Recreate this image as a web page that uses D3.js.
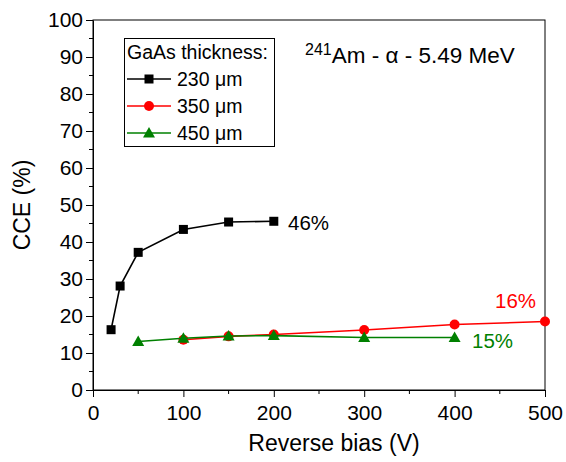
<!DOCTYPE html>
<html>
<head>
<meta charset="utf-8">
<script src="https://cdn.jsdelivr.net/npm/d3@7"></script>
<style>
body { margin: 0; background: #fff; }
text { font-family: Arial, "Liberation Sans", sans-serif; }
</style>
</head>
<body>
<div class="holder"></div>
<script>
const w = 566;
const h = 462;
const margin = {left: 93, right: 21, top: 20, bottom: 72};

// data
const bias230 = [20, 30, 50, 100, 150, 200];
const cce230 = [16.3, 28.1, 37.2, 43.4, 45.4, 45.6];
const bias350 = [100, 150, 200, 300, 400, 500];
const cce350 = [13.6, 14.5, 15.0, 16.2, 17.7, 18.5];
const bias450 = [50, 100, 150, 200, 300, 400];
const cce450 = [13.1, 14.0, 14.6, 14.7, 14.2, 14.2];
const xTicks = [0, 100, 200, 300, 400, 500];
const yTicks = [0, 10, 20, 30, 40, 50, 60, 70, 80, 90, 100];

const series = [
  {name: '230 \u03bcm', x: bias230, y: cce230, color: '#000000', shape: 'square', label: '46%'},
  {name: '350 \u03bcm', x: bias350, y: cce350, color: '#ff0000', shape: 'circle', label: '16%'},
  {name: '450 \u03bcm', x: bias450, y: cce450, color: '#008000', shape: 'triangle', label: '15%'}
];

const svg = d3.select('.holder').append('svg').attr('width', w).attr('height', h);

const xScale = d3.scaleLinear().domain([0, 500]).range([margin.left, w - margin.right]);
const yScale = d3.scaleLinear().domain([0, 100]).range([h - margin.bottom, margin.top]);

// minor ticks
const xMinor = d3.range(50, 500, 100);
const yMinor = d3.range(5, 100, 10);
svg.append('g').selectAll('line').data(xMinor).enter().append('line')
  .attr('x1', d => xScale(d)).attr('x2', d => xScale(d))
  .attr('y1', yScale(0)).attr('y2', yScale(0) + 4)
  .attr('stroke', '#000');
svg.append('g').selectAll('line').data(yMinor).enter().append('line')
  .attr('y1', d => yScale(d)).attr('y2', d => yScale(d))
  .attr('x1', xScale(0)).attr('x2', xScale(0) - 4)
  .attr('stroke', '#000');

// axes
const xAxis = d3.axisBottom(xScale).tickValues(xTicks).tickSize(7).tickSizeOuter(0).tickPadding(8);
const yAxis = d3.axisLeft(yScale).tickValues(yTicks).tickSize(7).tickSizeOuter(0).tickPadding(3);
const gx = svg.append('g').attr('transform', 'translate(0,' + yScale(0) + ')').call(xAxis);
const gy = svg.append('g').attr('transform', 'translate(' + xScale(0) + ',0)').call(yAxis);
[gx, gy].forEach(g => {
  g.selectAll('text').style('font-size', '21px').attr('fill', '#000');
  g.selectAll('line').attr('stroke', '#000');
  g.select('.domain').attr('stroke', '#000');
});

// frame
svg.append('rect')
  .attr('x', xScale(0)).attr('y', yScale(100))
  .attr('width', xScale(500) - xScale(0)).attr('height', yScale(0) - yScale(100))
  .attr('fill', 'none').attr('stroke', '#000').attr('stroke-width', 1);

// axis titles
svg.append('text').attr('x', (xScale(0) + xScale(500)) / 2 + 15).attr('y', 451)
  .attr('text-anchor', 'middle').style('font-size', '23px').text('Reverse bias (V)');
svg.append('text').attr('transform', 'translate(30,' + yScale(50) + ') rotate(-90)')
  .attr('text-anchor', 'middle').style('font-size', '23px').text('CCE (%)');

// marker drawing
function marker(g, shape, color, x, y) {
  if (shape === 'square') {
    g.append('rect').attr('x', x - 4.5).attr('y', y - 4.5).attr('width', 9).attr('height', 9).attr('fill', color);
  } else if (shape === 'circle') {
    g.append('circle').attr('cx', x).attr('cy', y).attr('r', 5).attr('fill', color);
  } else {
    g.append('path').attr('d', 'M' + x + ',' + (y - 6) + 'L' + (x + 6) + ',' + (y + 4.5) + 'L' + (x - 6) + ',' + (y + 4.5) + 'Z').attr('fill', color);
  }
}

// lines and points
const line = d3.line().x(d => xScale(d[0])).y(d => yScale(d[1]));
series.forEach(s => {
  const pts = s.x.map((v, i) => [v, s.y[i]]);
  svg.append('path').datum(pts).attr('d', line)
    .attr('fill', 'none').attr('stroke', s.color).attr('stroke-width', 1.6);
  const g = svg.append('g');
  pts.forEach(p => marker(g, s.shape, s.color, xScale(p[0]), yScale(p[1])));
});

// end labels
svg.append('text').attr('x', 288).attr('y', 229.5)
  .style('font-size', '20.5px').attr('fill', '#000').text(series[0].label);
svg.append('text').attr('x', 495).attr('y', 308)
  .style('font-size', '20.5px').attr('fill', '#ff0000').text(series[1].label);
svg.append('text').attr('x', 472).attr('y', 348)
  .style('font-size', '20.5px').attr('fill', '#008000').text(series[2].label);

// legend
const lg = svg.append('g');
lg.append('rect').attr('x', 124.5).attr('y', 38.5).attr('width', 150).attr('height', 108)
  .attr('fill', '#fff').attr('stroke', '#000');
lg.append('text').attr('x', 127).attr('y', 59).style('font-size', '19.5px').text('GaAs thickness:');
series.forEach((s, i) => {
  const yy = 79 + i * 27;
  lg.append('line').attr('x1', 127).attr('x2', 171).attr('y1', yy).attr('y2', yy)
    .attr('stroke', s.color).attr('stroke-width', 1.6);
  marker(lg, s.shape, s.color, 149, yy);
  lg.append('text').attr('x', 177).attr('y', yy + 7).style('font-size', '19.5px').text(s.name);
});

// annotation
const ann = svg.append('text').attr('x', 305).attr('y', 63).style('font-size', '22.5px');
ann.append('tspan').attr('dy', -8).style('font-size', '16px').text('241');
ann.append('tspan').attr('dy', 8).text('Am - \u03b1 - 5.49 MeV');
</script>
</body>
</html>
